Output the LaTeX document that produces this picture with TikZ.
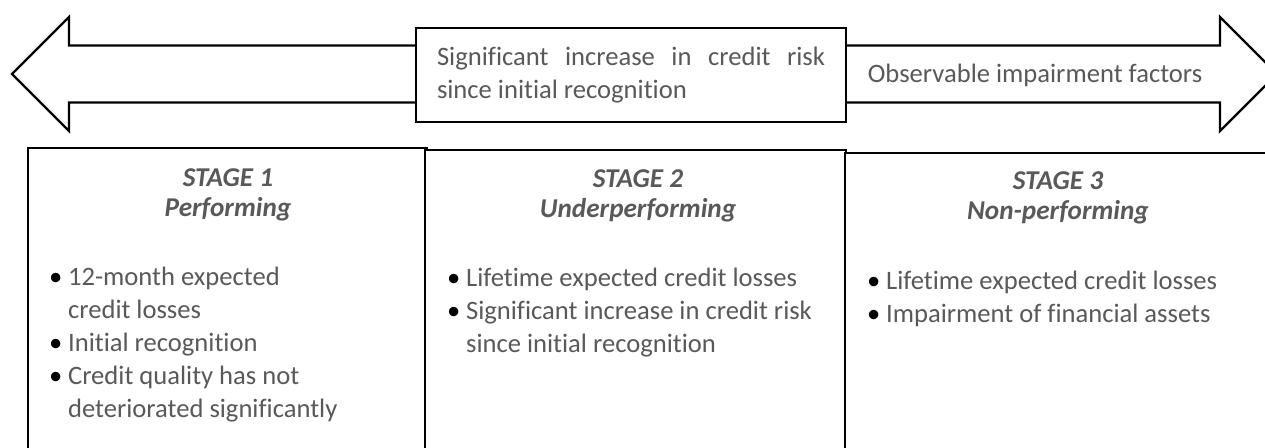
\documentclass[tikz,border=0pt]{standalone}
\usepackage{fontspec}
\setmainfont{Carlito}[Ligatures=NoCommon]
\definecolor{txtgray}{HTML}{595959}
% bullet and continuation indent for the stage lists
\newcommand{\bitem}{\makebox[9.5pt][l]{\textcolor{black}{\textbullet}}}
\newcommand{\bcont}{\hspace*{9.5pt}}

\begin{document}
\begin{tikzpicture}[x=0.5pt, y=-0.5pt, line width=1.1pt,
    every node/.style={text=txtgray, font=\fontsize{13.3}{16.5}\selectfont},
    stagebox/.style={draw, fill=white, anchor=north west, minimum height=161.5pt},
    heading/.style={anchor=north, align=center, inner sep=0pt,
      font=\fontsize{13.6}{15}\selectfont\bfseries\itshape},
    points/.style={anchor=north west, align=left, inner sep=0pt}]
  \useasboundingbox (0,0) rectangle (1265,448);
  \clip (0,0) rectangle (1265,448);

  % double arrow along the top
  \draw[fill=white] (12,74) -- (69,17) -- (69,45.5) -- (1220,45.5) -- (1220,17)
    -- (1277,74) -- (1220,131) -- (1220,102.5) -- (69,102.5) -- (69,131) -- cycle;
  \node[draw, fill=white, inner sep=0pt, minimum width=215pt, minimum height=47pt,
    text width=194pt, align=justify] (sicr) at (631,75)
    {Significant increase in credit risk\linebreak since initial recognition};
  \node[anchor=base] (obs) at (1035,83) {Observable impairment factors};

  % the three stages
  \node[stagebox, minimum width=199.5pt] (s1) at (27,147) {};
  \node[stagebox, minimum width=210.5pt] (s2) at (424,149) {};
  \node[stagebox, minimum width=223pt] (s3) at (844,152) {};

  \node[heading] (h1) at (228,164) {\strut STAGE 1\\Performing};
  \node[heading] (h2) at (638,165) {\strut STAGE 2\\Underperforming};
  \node[heading] (h3) at (1058,167) {\strut STAGE 3\\Non-performing};

  \node[points] (p1) at (48,261) {\strut\bitem 12-month expected\\
    \bcont credit losses\\
    \bitem Initial recognition\\
    \bitem Credit quality has not\\
    \bcont deteriorated significantly};
  \node[points] (p2) at (446,262) {\strut\bitem Lifetime expected credit losses\\
    \bitem Significant increase in credit risk\\
    \bcont since initial recognition};
  \node[points] (p3) at (866,265) {\strut\bitem Lifetime expected credit losses\\
    \bitem Impairment of financial assets};
\end{tikzpicture}
\end{document}
